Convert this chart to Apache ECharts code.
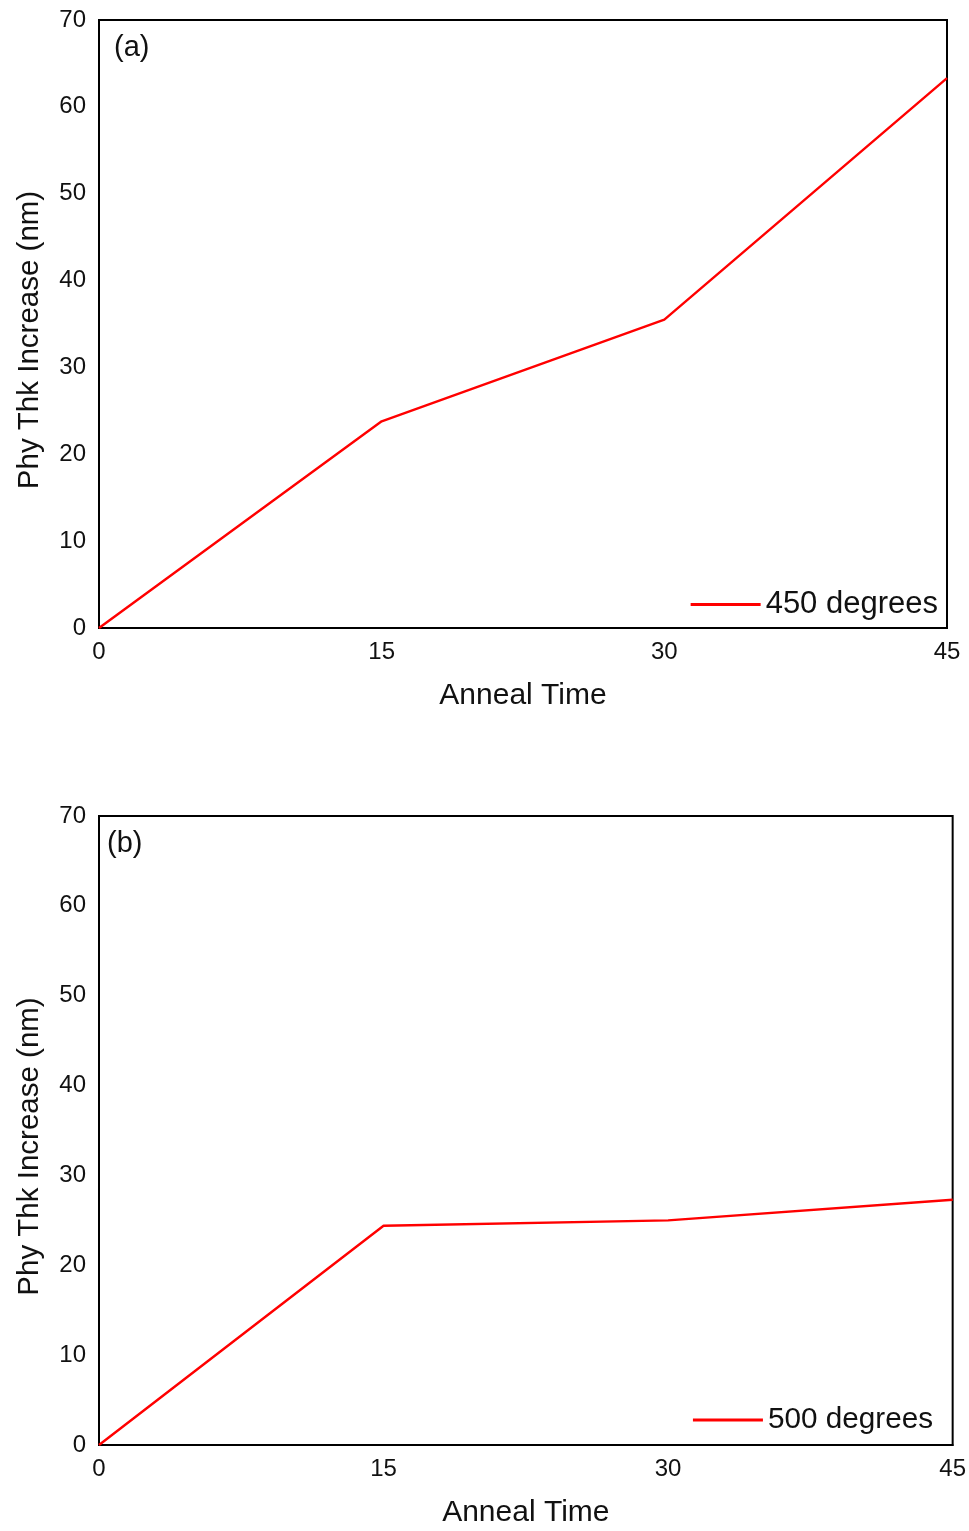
<!DOCTYPE html>
<html>
<head>
<meta charset="utf-8">
<script src="https://cdn.jsdelivr.net/npm/echarts@6/dist/echarts.min.js"></script>
<style>html,body{margin:0;padding:0;background:#fff}#c{width:969px;height:1531px}</style>
</head>
<body>
<div id="c"></div>
<script>
var annealTimes = [0, 15, 30, 45];
var thk450 = [0, 23.8, 35.5, 63.3];
var thk500 = [0, 24.4, 25.0, 27.3];
var seriesNames = ['450 degrees', '500 degrees'];
var panelLabels = ['(a)', '(b)'];
var xTitle = 'Anneal Time';
var yTitle = 'Phy Thk Increase (nm)';

var FONT = 'Liberation Sans, Arial, sans-serif';
function pairs(xs, ys){ return xs.map(function(x,i){ return [x, ys[i]]; }); }

var grids = [
  {left: 99, top: 20, width: 848, height: 608},
  {left: 99, top: 816, width: 856, height: 629}
];
function xAx(i){
  return {gridIndex:i, type:'value', min:0, max:45, interval:15,
    name:xTitle, nameLocation:'middle', nameGap:53,
    nameTextStyle:{fontFamily:FONT, fontSize:30, color:'#111'},
    axisLine:{show:true, onZero:false, lineStyle:{color:'#000', width:2}},
    axisTick:{show:false}, splitLine:{show:false},
    axisLabel:{fontFamily:FONT, fontSize:24, color:'#111', margin:12}};
}
function yAx(i){
  return {gridIndex:i, type:'value', min:0, max:70, interval:10,
    name:yTitle, nameLocation:'middle', nameGap:54, nameRotate:90,
    nameTextStyle:{fontFamily:FONT, fontSize:29.5, color:'#111', padding:[0, 32, 0, 0]},
    axisLine:{show:true, lineStyle:{color:'#000', width:2}},
    axisTick:{show:false}, splitLine:{show:false},
    axisLabel:{fontFamily:FONT, fontSize:24, color:'#111', margin:13}};
}
var option = {
  animation:false,
  backgroundColor:'#fff',
  grid: grids.map(function(g){ return Object.assign({show:true, borderColor:'#000', borderWidth:2, backgroundColor:'transparent'}, g); }),
  xAxis:[xAx(0), xAx(1)],
  yAxis:[yAx(0), yAx(1)],
  title:[
    {text:panelLabels[0], left:109, top:28, textStyle:{fontFamily:FONT, fontSize:29, fontWeight:'normal', color:'#111'}},
    {text:panelLabels[1], left:102, top:824, textStyle:{fontFamily:FONT, fontSize:29, fontWeight:'normal', color:'#111'}}
  ],
  legend:[
    {data:[seriesNames[0]], right:26, top:584, icon:'rect', itemWidth:70, itemHeight:3, itemGap:8,
     textStyle:{fontFamily:FONT, fontSize:31, color:'#111'}},
    {data:[seriesNames[1]], right:31, top:1400, icon:'rect', itemWidth:70, itemHeight:3, itemGap:8,
     textStyle:{fontFamily:FONT, fontSize:29.7, color:'#111'}}
  ],
  series:[
    {name:seriesNames[0], type:'line', xAxisIndex:0, yAxisIndex:0, data:pairs(annealTimes, thk450),
     showSymbol:false, symbol:'none', lineStyle:{color:'#ff0000', width:2.4}, itemStyle:{color:'#ff0000'}},
    {name:seriesNames[1], type:'line', xAxisIndex:1, yAxisIndex:1, data:pairs(annealTimes, thk500),
     showSymbol:false, symbol:'none', lineStyle:{color:'#ff0000', width:2.4}, itemStyle:{color:'#ff0000'}}
  ]
};
var chart = echarts.init(document.getElementById('c'), null, {renderer:'canvas'});
chart.setOption(option);
</script>
</body>
</html>
